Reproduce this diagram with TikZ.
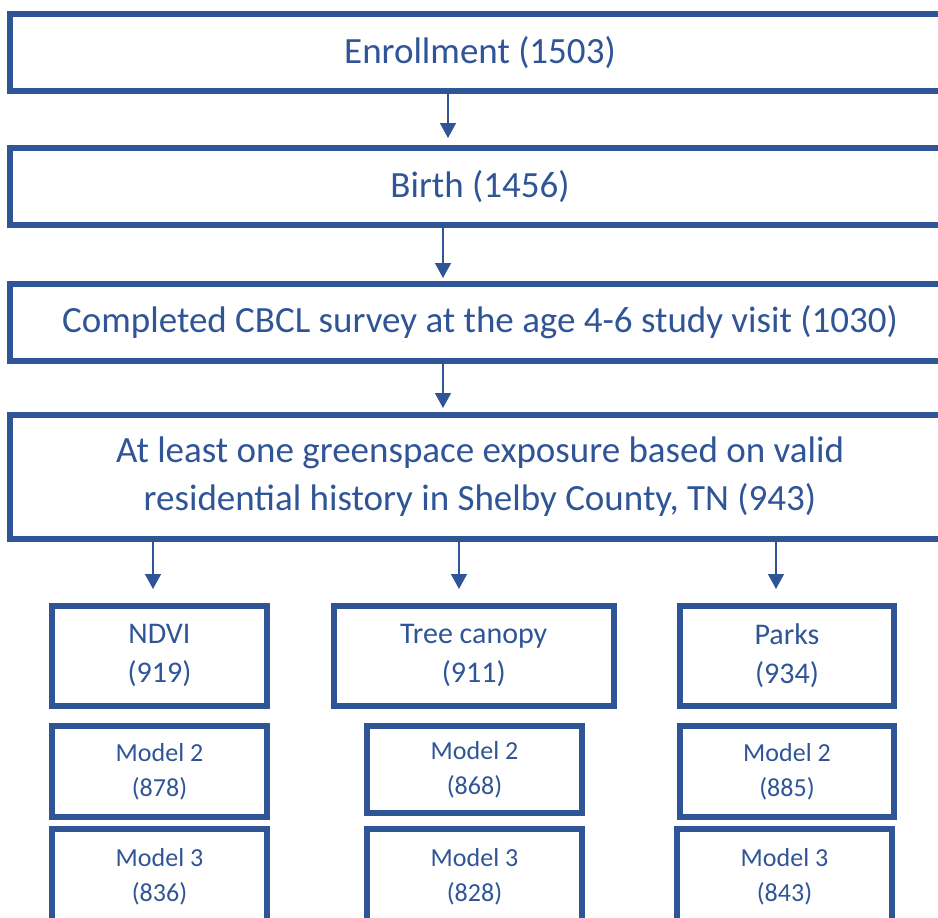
\documentclass[tikz,border=0pt]{standalone}
\usepackage{fontspec}
\setmainfont{Carlito}
\usetikzlibrary{arrows.meta, positioning}
\definecolor{ofblue}{RGB}{47,85,151}

\begin{document}
\begin{tikzpicture}[
    x=1pt, y=-1pt,
    >={Triangle[length=15pt,width=16pt]},
    stage/.style={draw=ofblue, line width=6pt, align=center, text=ofblue,
                  inner sep=0pt, outer sep=0pt, minimum width=940pt,
                  font=\fontsize{37}{48}\selectfont},
    expo/.style={draw=ofblue, line width=6pt, align=center, text=ofblue,
                 inner sep=0pt, outer sep=0pt,
                 font=\fontsize{30}{39}\selectfont},
    mdl/.style={expo, font=\fontsize{26}{35}\selectfont},
    arr/.style={->, ofblue, line width=1.5pt},
  ]
  \useasboundingbox (0,0) rectangle (938,918);
  \clip (0,0) rectangle (938,918);

  %% ---- main stages ----------------------------------------------
  \node[stage, minimum height=77pt]  (enr)   at (480,52.5)  {Enrollment (1503)};
  \node[stage, minimum height=77pt]  (birth) at (480,186.5) {Birth (1456)};
  \node[stage, minimum height=77pt]  (cbcl)  at (480,322.5)
  {Completed CBCL survey at the age 4-6 study visit (1030)};
  \node[stage, minimum height=124pt] (green) at (480,477)
  {At least one greenspace exposure based on valid\\
   residential history in Shelby County, TN (943)};

  \draw[arr, shorten >=10pt] ([xshift=-32pt]enr.south)   -- ([xshift=-32pt]birth.north);
  \draw[arr, shorten >=6pt]  ([xshift=-37pt]birth.south) -- ([xshift=-37pt]cbcl.north);
  \draw[arr, shorten >=7pt]  ([xshift=-37pt]cbcl.south)  -- ([xshift=-37pt]green.north);

  %% ---- exposures --------------------------------------------------
  \node[expo, minimum width=215pt,   minimum height=100.5pt] (ndvi) at (159.5,655.75) {NDVI\\(919)};
  \node[expo, minimum width=280.5pt, minimum height=100.5pt] (tree) at (473.75,655.75) {Tree canopy\\(911)};
  \node[expo, minimum width=214pt,   minimum height=100.5pt] (park) at (787,655.75) {Parks\\(934)};

  \draw[arr, shorten >=16.5pt] (green.south -| 153,0) -- ([xshift=-6.5pt]ndvi.north);
  \draw[arr, shorten >=16.5pt] (green.south -| 459,0) -- ([xshift=-14.75pt]tree.north);
  \draw[arr, shorten >=16.5pt] (green.south -| 776,0) -- ([xshift=-11pt]park.north);

  %% ---- models -----------------------------------------------------
  \node[mdl, minimum width=215pt, minimum height=91pt] (ndvi2) at (159.5,771.5) {Model 2\\(878)};
  \node[mdl, minimum width=215pt, minimum height=87pt] (tree2) at (474.5,769.5) {Model 2\\(868)};
  \node[mdl, minimum width=214pt, minimum height=91pt] (park2) at (787,771.5)   {Model 2\\(885)};

  \node[mdl, minimum width=215pt, minimum height=96pt] (ndvi3) at (159.5,877) {Model 3\\(836)};
  \node[mdl, minimum width=215pt, minimum height=96pt] (tree3) at (474.5,877) {Model 3\\(828)};
  \node[mdl, minimum width=215pt, minimum height=96pt] (park3) at (784.5,877) {Model 3\\(843)};

\end{tikzpicture}
\end{document}
